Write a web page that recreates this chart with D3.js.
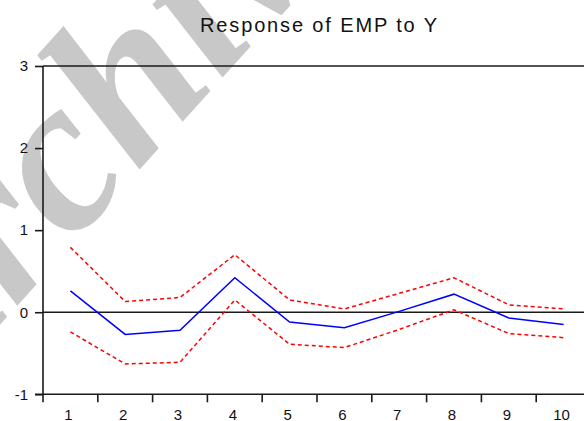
<!DOCTYPE html>
<html>
<head>
<meta charset="utf-8">
<script src="https://cdn.jsdelivr.net/npm/d3@7"></script>
<style>
  html, body { margin: 0; padding: 0; background: #fff; overflow: hidden; }
  svg { display: block; }
</style>
</head>
<body>
<svg id="chart" width="584" height="421"></svg>
<script>
// Impulse response of EMP to a shock in Y, with +/- 2 S.E. bands
const periods = [1, 2, 3, 4, 5, 6, 7, 8, 9, 10];
const response = [0.26, -0.27, -0.22, 0.42, -0.12, -0.19, 0.01, 0.22, -0.07, -0.15];
const upperBand = [0.79, 0.13, 0.18, 0.70, 0.15, 0.04, 0.23, 0.42, 0.09, 0.04];
const lowerBand = [-0.24, -0.63, -0.61, 0.15, -0.39, -0.43, -0.21, 0.03, -0.26, -0.31];
const yTicks = [-1, 0, 1, 2, 3];
const titleText = "Response of EMP to Y";
const watermarkText = "Archive";

(function draw() {
  const W = 584;
  const svg = d3.select("#chart");

  // faint diagonal watermark behind the chart
  svg.append("text")
    .attr("transform", "translate(-84,418) rotate(-48)")
    .attr("font-family", "Liberation Serif, serif")
    .attr("font-weight", "bold")
    .attr("font-style", "italic")
    .attr("font-size", 220)
    .attr("fill", "#c8c8c8")
    .text(watermarkText);

  const plotLeft = 43, plotTop = 66, plotBottom = 394.3;
  const bandW = 54.8;

  const x = d3.scaleBand()
    .domain(periods)
    .range([plotLeft, plotLeft + bandW * periods.length])
    .paddingInner(0).paddingOuter(0);
  const xc = d => x(d) + x.bandwidth() / 2;

  const y = d3.scaleLinear().domain([-1, 3]).range([plotBottom, plotTop]);

  const axisColor = "#1a1a1a";
  const fontFam = "Liberation Sans, Arial, sans-serif";

  // title
  svg.append("text")
    .attr("x", 318.5).attr("y", 31.5)
    .attr("text-anchor", "middle")
    .attr("font-family", fontFam)
    .attr("font-size", 20)
    .attr("textLength", 237)
    .attr("lengthAdjust", "spacing")
    .attr("fill", "#111")
    .text(titleText);

  // top frame line
  svg.append("line")
    .attr("x1", plotLeft).attr("x2", W)
    .attr("y1", y(3)).attr("y2", y(3))
    .attr("stroke", axisColor).attr("stroke-width", 1.6);

  // zero line
  svg.append("line")
    .attr("x1", plotLeft).attr("x2", W)
    .attr("y1", y(0)).attr("y2", y(0))
    .attr("stroke", axisColor).attr("stroke-width", 1.4);

  // y axis
  const yAxis = d3.axisLeft(y).tickValues(yTicks).tickSize(8).tickPadding(7)
    .tickFormat(d => String(d));
  const gy = svg.append("g").attr("transform", `translate(${plotLeft},0)`).call(yAxis);
  gy.select(".domain").attr("d", `M0,${plotTop}V${plotBottom}`);
  gy.selectAll("path, line").attr("stroke", axisColor).attr("stroke-width", 1.6);
  gy.selectAll("text").attr("font-family", fontFam).attr("font-size", 15).attr("fill", "#111");

  // x axis with ticks at band edges, labels at band centers
  const xAxisG = svg.append("g").attr("transform", `translate(0,${plotBottom})`);
  xAxisG.append("line")
    .attr("x1", plotLeft - 8).attr("x2", W)
    .attr("stroke", axisColor).attr("stroke-width", 1.6);
  const edges = periods.map(p => x(p)).concat([x(periods[periods.length - 1]) + x.bandwidth()]);
  xAxisG.selectAll("line.tk").data(edges).join("line")
    .attr("class", "tk")
    .attr("x1", d => d).attr("x2", d => d)
    .attr("y1", 0).attr("y2", 8)
    .attr("stroke", axisColor).attr("stroke-width", 1.6);
  xAxisG.selectAll("text").data(periods).join("text")
    .attr("x", d => xc(d) - 2)
    .attr("y", 25.5)
    .attr("text-anchor", "middle")
    .attr("font-family", fontFam)
    .attr("font-size", 15)
    .attr("fill", "#111")
    .text(d => d);

  const line = d3.line().x((d, i) => xc(periods[i])).y(d => y(d));

  svg.append("path").datum(upperBand)
    .attr("d", line).attr("fill", "none")
    .attr("stroke", "#ff0000").attr("stroke-width", 1.5)
    .attr("stroke-dasharray", "4,3");
  svg.append("path").datum(lowerBand)
    .attr("d", line).attr("fill", "none")
    .attr("stroke", "#ff0000").attr("stroke-width", 1.5)
    .attr("stroke-dasharray", "4,3");
  svg.append("path").datum(response)
    .attr("d", line).attr("fill", "none")
    .attr("stroke", "#0000ff").attr("stroke-width", 1.5);
})();
</script>
</body>
</html>
